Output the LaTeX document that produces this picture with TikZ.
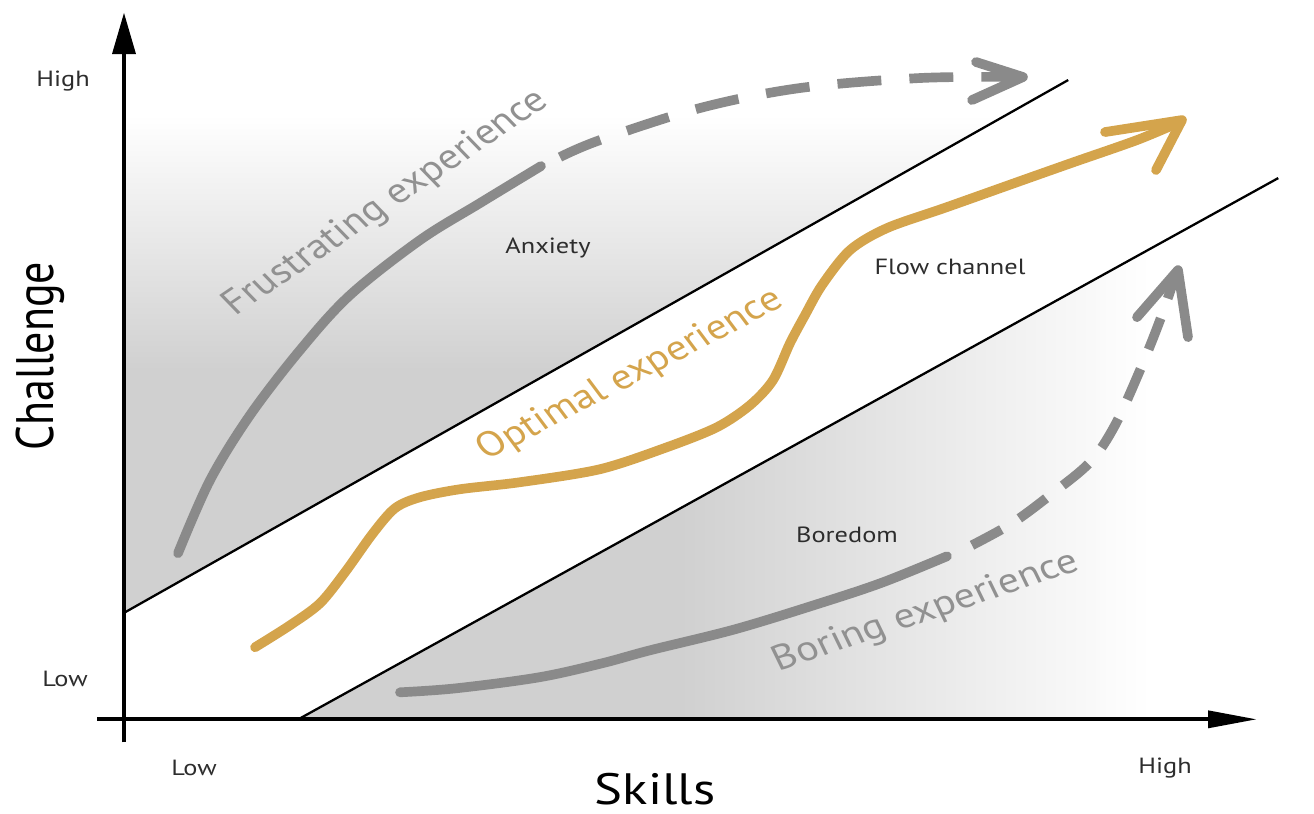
\documentclass[tikz,border=0pt]{standalone}
\usepackage{fontspec}
\setmainfont{PT Sans}
\definecolor{curvegray}{RGB}{138,138,138}
\definecolor{textgray}{RGB}{145,145,145}
\definecolor{gold}{RGB}{212,164,76}
\definecolor{regiongray}{RGB}{208,208,208}
\definecolor{labeldark}{RGB}{45,45,45}
\tikzset{
  lab/.style={font=\fontsize{12.5}{14}\selectfont, text=labeldark, inner sep=0pt},
  big/.style={font=\fontsize{25}{30}\selectfont, text=black, inner sep=0pt},
  exptext/.style={font=\fontsize{20}{24}\selectfont, inner sep=0pt, anchor=base},
  axisline/.style={line width=2.2pt, black},
  bound/.style={line width=1.3pt, black},
  graycurve/.style={draw=curvegray, line width=5.5pt, line cap=round, line join=round},
  goldcurve/.style={draw=gold, line width=5.5pt, line cap=round, line join=round},
  graydash/.style={draw=curvegray, line width=5.5pt, dash pattern=on 25pt off 16pt},
  graydashb/.style={draw=curvegray, line width=5.5pt, dash pattern=on 19pt off 12pt},
  chevgray/.style={draw=curvegray, line width=5.5pt, line cap=round, line join=round},
  chevgold/.style={draw=gold, line width=5.5pt, line cap=round, line join=round}
}
\begin{document}
\begin{tikzpicture}[x=0.016666667cm, y=-0.02cm, xscale=1.2, every node/.append style={transform shape}]
\useasboundingbox (0,0) rectangle (1314,813);

% shaded regions
\begin{scope}
  \clip (125,612) -- (1068,80) -- (1068,-20) -- (125,-20) -- cycle;
  \shade[top color=white, bottom color=regiongray] (125,115) rectangle (1068,370);
  \fill[regiongray] (125,368) rectangle (1068,620);
\end{scope}
\begin{scope}
  \clip (300,718) -- (1278,178) -- (1278,718) -- cycle;
  \shade[left color=regiongray, right color=white] (680,170) rectangle (1150,720);
  \fill[regiongray] (290,170) rectangle (682,720);
\end{scope}

% channel boundaries
\coordinate (ua) at (125,612);
\coordinate (ub) at (1068,80);
\coordinate (la) at (300,718);
\coordinate (lb) at (1278,178);
\draw[bound] (ua) -- (ub);
\draw[bound] (la) -- (lb);

% axes
\coordinate (yb) at (124,742);
\coordinate (yt) at (124,45);
\coordinate (xl) at (97,719);
\coordinate (xr) at (1215,719);
\draw[axisline] (yb) -- (yt);
\fill (124,13) -- (112,54) -- (136,54) -- cycle;
\draw[axisline] (xl) -- (xr);
\fill (1256,719) -- (1208,710) -- (1208,728) -- cycle;

% frustrating experience curve
\draw[graycurve] plot[smooth, tension=0.55] coordinates {(178,553) (210,480) (250,415) (300,350) (350,295) (420,240) (480,203) (541,166)};
\draw[graydash] plot[smooth, tension=0.55] coordinates {(560,157) (600,140) (700,108) (800,88) (920,78) (1018,77)};
\draw[chevgray] (976,62) -- (1023,77) -- (972,100);

% optimal experience curve
\draw[goldcurve] plot[smooth, tension=0.5] coordinates {(255,647) (290,625) (320,603) (345,572) (373,533) (395,508) (420,497) (460,489) (520,482) (600,469) (667,447) (717,427) (750,405) (773,380) (790,343) (805,315) (822,285) (850,250) (887,228) (947,207) (1023,180) (1074,162) (1137,140) (1180,122)};
\draw[chevgold] (1105,132) -- (1182,120) -- (1156,170);

% boring experience curve
\draw[graycurve] plot[smooth, tension=0.55] coordinates {(400,692) (456,688) (539,677) (602,663) (650,650) (735,629) (820,603) (883,582) (947,556)};
\draw[graydashb] plot[smooth, tension=0.55] coordinates {(972,545) (1012,523) (1050,495) (1090,462) (1115,425) (1140,370) (1160,320) (1176,274)};
\draw[chevgray] (1137,317) -- (1178,270) -- (1188,337);

% labels
\node[lab] (yhigh) at (63,81) {High};
\node[lab] (ylow) at (65,679) {Low};
\node[lab] (xlow) at (194,768) {Low};
\node[lab] (xhigh) at (1165,768) {High};
\node[big, rotate=90, anchor=base] (chal) at (53,356) {Challenge};
\node[big, anchor=base] (skills) at (655,804) {Skills};
\node[lab] (anx) at (548,248) {Anxiety};
\node[lab] (flow) at (950,267) {Flow channel};
\node[lab] (bored) at (847,535) {Boredom};
\node[exptext, text=textgray, rotate=39] (frus) at (393,210) {Frustrating experience};
\node[exptext, text=gold, rotate=32] (opt) at (636,383) {Optimal experience};
\node[exptext, text=textgray, rotate=22] (bor) at (930,620) {Boring experience};
\end{tikzpicture}
\end{document}
